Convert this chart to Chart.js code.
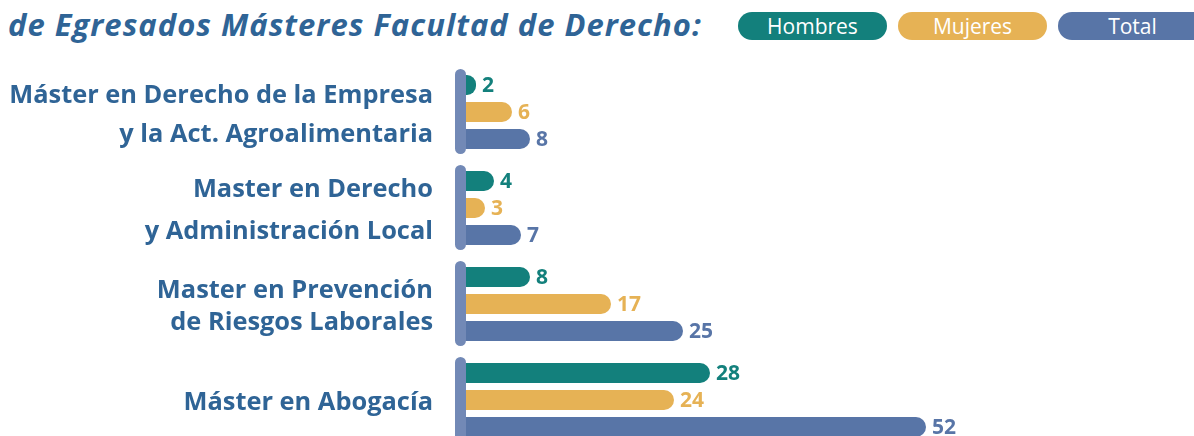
<!DOCTYPE html>
<html lang="es">
<head>
<meta charset="utf-8">
<title>Egresados Másteres Facultad de Derecho</title>
<script src="https://cdn.jsdelivr.net/npm/chart.js@4/dist/chart.umd.min.js"></script>
<style>
  html, body { margin: 0; padding: 0; background: #fff; overflow: hidden; }
  #wrap { position: relative; width: 1194px; height: 460px; }
  #chartTitle {
    position: absolute; left: 8px; top: 3px; margin: 0;
    font: italic 700 31px "Open Sans", sans-serif; letter-spacing: 1px;
    color: #2f6496; white-space: nowrap;
  }
  #legend { position: absolute; left: 738px; top: 12px; display: flex; gap: 11px; }
  #legend span {
    display: block; width: 149px; height: 28px; line-height: 28px; border-radius: 14px;
    text-align: center; color: #fff; font: 400 21px "Open Sans", sans-serif;
  }
  #mastersChart { position: absolute; left: 0; top: 0; }
</style>
</head>
<body>
<div id="wrap">
  <h1 id="chartTitle">de Egresados Másteres Facultad de Derecho:</h1>
  <div id="legend"></div>
  <canvas id="mastersChart" width="1194" height="460"></canvas>
</div>
<script>
/* eslint-disable no-undef */

// data
const categories = [
  ['Máster en Derecho de la Empresa', 'y la Act. Agroalimentaria'],
  ['Master en Derecho', 'y Administración Local'],
  ['Master en Prevención', 'de Riesgos Laborales'],
  'Máster en Abogacía'
];
const seriesNames = ['Hombres', 'Mujeres', 'Total'];
const hombres = [2, 4, 8, 28];
const mujeres = [6, 3, 17, 24];
const total = [8, 7, 25, 52];

const colors = ['#13807c', '#e6b255', '#5875a7'];
const bracketColor = '#7289b6';
const labelColor = '#2f6496';
const labelLineHeights = [1.54, 1.64, 1.24, 1.6];

function ready( fn ) {
  if ( document.readyState !== 'loading' ) {
    fn();
  } else {
    document.addEventListener( 'DOMContentLoaded', fn );
  }
}

ready( function () {
  buildLegend();
  mastersChart();
} );

function buildLegend() {
  const box = document.getElementById('legend');
  seriesNames.forEach(function (name, i) {
    const pill = document.createElement('span');
    pill.textContent = name;
    pill.style.background = colors[i];
    box.appendChild(pill);
  });
}

// rounded vertical bar at the start of every category
const bracketPlugin = {
  id: 'bracket',
  afterDatasetsDraw(chart) {
    const ctx = chart.ctx;
    const x0 = chart.scales.x.getPixelForValue(0);
    const yScale = chart.scales.y;
    const band = (chart.chartArea.bottom - chart.chartArea.top) / categories.length;
    ctx.save();
    ctx.fillStyle = bracketColor;
    categories.forEach(function (c, i) {
      const yc = yScale.getPixelForValue(i);
      const top = yc - band / 2 + 5;
      const bottom = yc + band / 2 - 6;
      ctx.beginPath();
      ctx.roundRect(x0 - 3, top, 11, bottom - top, 5.5);
      ctx.fill();
    });
    ctx.restore();
  }
};

// value next to the end of each bar
const valueLabels = {
  id: 'valueLabels',
  afterDatasetsDraw(chart) {
    const ctx = chart.ctx;
    ctx.save();
    ctx.font = 'bold 21px "Open Sans", sans-serif';
    ctx.textAlign = 'left';
    ctx.textBaseline = 'middle';
    chart.data.datasets.forEach(function (ds, di) {
      const meta = chart.getDatasetMeta(di);
      ctx.fillStyle = ds.backgroundColor;
      meta.data.forEach(function (bar, i) {
        ctx.fillText(ds.data[i], bar.x + 6, bar.y + 1);
      });
    });
    ctx.restore();
  }
};

function mastersChart() {

  const ctx = document.getElementById('mastersChart').getContext('2d');

  const data = {
    labels: categories,
    datasets: [
      { label: seriesNames[0], data: hombres, backgroundColor: colors[0] },
      { label: seriesNames[1], data: mujeres, backgroundColor: colors[1] },
      { label: seriesNames[2], data: total, backgroundColor: colors[2] }
    ]
  };

  const config = {
    type: 'bar',
    data: data,
    options: {
      indexAxis: 'y',
      responsive: false,
      animation: false,
      layout: {
        padding: { top: 64, bottom: 12, right: 16, left: 0 }
      },
      datasets: {
        bar: {
          categoryPercentage: 0.844,
          barPercentage: 0.74,
          borderRadius: 10,
          borderSkipped: 'start'
        }
      },
      plugins: {
        legend: { display: false },
        tooltip: { enabled: false }
      },
      scales: {
        x: {
          display: false,
          min: 0,
          max: 80
        },
        y: {
          grid: { display: false, drawTicks: false },
          border: { display: false },
          afterFit: function (scale) {
            scale.width = 458;
            // labels must not push the plot area in
            scale.paddingTop = 0;
            scale.paddingBottom = 0;
          },
          ticks: {
            padding: 25,
            labelOffset: 3,
            color: labelColor,
            font: function (c) {
              return {
                family: '"Open Sans", sans-serif',
                size: 25.4,
                weight: 'bold',
                lineHeight: labelLineHeights[c.index] || 1.6
              };
            }
          }
        }
      }
    },
    plugins: [bracketPlugin, valueLabels]
  };
  const myChart = new Chart(ctx, config);
}
</script>
</body>
</html>
